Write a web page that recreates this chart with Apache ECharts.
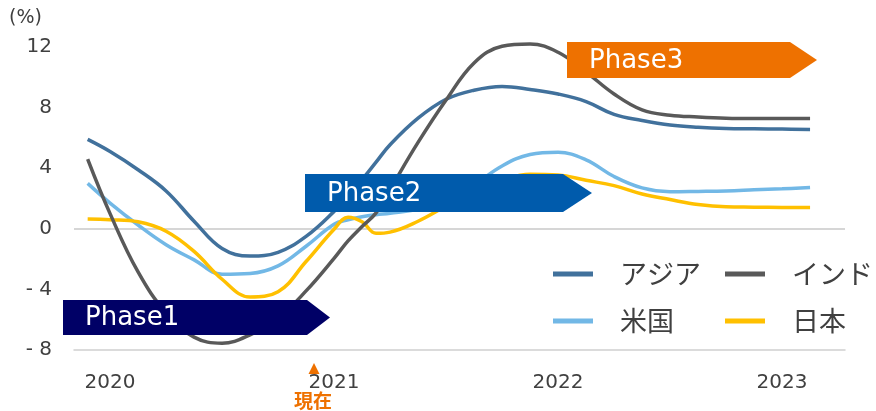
<!DOCTYPE html>
<html>
<head>
<meta charset="utf-8">
<script src="https://cdn.jsdelivr.net/npm/echarts@6/dist/echarts.min.js"></script>
<style>
html,body{margin:0;padding:0;background:#fff;}
#chart{width:876px;height:411px;}
</style>
</head>
<body>
<div id="chart"></div>
<script>
// ---- data ----
var xs = [2019.9, 2020, 2020.125, 2020.25, 2020.375, 2020.5, 2020.625, 2020.75, 2020.875, 2021, 2021.0625, 2021.125, 2021.1875, 2021.25, 2021.375, 2021.5, 2021.625, 2021.75, 2021.875, 2022, 2022.125, 2022.25, 2022.375, 2022.5, 2022.625, 2022.75, 2022.875, 2023, 2023.125];
var asia  = [5.9, 5.1, 3.9, 2.5, 0.5, -1.3, -1.8, -1.55, -0.5, 1.15, 2.2, 3.25, 4.4, 5.55, 7.3, 8.55, 9.15, 9.4, 9.2, 8.9, 8.4, 7.55, 7.15, 6.85, 6.7, 6.62, 6.6, 6.58, 6.56];
var india = [4.6, 1.0, -2.85, -5.55, -7.15, -7.55, -7.0, -5.9, -4.1, -1.95, -0.8, 0.15, 1.05, 2.6, 5.7, 8.5, 10.95, 12.05, 12.2, 11.65, 10.35, 8.9, 7.85, 7.5, 7.38, 7.3, 7.28, 7.28, 7.28];
var usa   = [3.0, 1.7, 0.25, -1.05, -2.05, -3.0, -2.95, -2.45, -1.15, 0.3, 0.6, 0.8, 0.93, 1.02, 1.3, 1.9, 2.9, 4.15, 4.9, 5.05, 4.55, 3.45, 2.7, 2.45, 2.47, 2.5, 2.57, 2.64, 2.72];
var japan = [0.64, 0.6, 0.46, -0.16, -1.49, -3.33, -4.5, -4.15, -2.16, -0.03, 0.76, 0.46, -0.3, -0.22, 0.5, 1.5, 2.5, 3.2, 3.6, 3.55, 3.2, 2.85, 2.3, 1.93, 1.6, 1.45, 1.43, 1.41, 1.4];
var seriesNames = ['アジア', 'インド', '米国', '日本'];
var xTickLabels = [2020, 2021, 2022, 2023];
var yTicks = {min: -8, max: 12, interval: 4};
var phaseLabels = ['Phase1', 'Phase2', 'Phase3'];
var nowLabel = '現在';
var unitLabel = '(%)';

function pairs(arr) { return arr.map(function (v, i) { return [xs[i], v]; }); }

var colors = {'アジア': '#41719C', 'インド': '#595959', '米国': '#72B8E6', '日本': '#FFC000'};
var valuesByName = {'アジア': asia, 'インド': india, '米国': usa, '日本': japan};
var txt = '#404040';
var font = 'DejaVu Sans';
var cjk = '"Noto Sans CJK JP", "Noto Sans", sans-serif';

var series = ['アジア', '米国', '日本', 'インド'].map(function (name) {
  var s = {
    name: name,
    type: 'line',
    data: pairs(valuesByName[name]),
    smooth: 0.4,
    symbol: 'none',
    clip: false,
    color: colors[name],
    lineStyle: {width: 3.5, color: colors[name]},
    z: 3
  };
  if (name === 'アジア') {
    s.markLine = {
      silent: true,
      symbol: ['none', 'none'],
      label: {show: false},
      lineStyle: {color: '#C8C8C8', width: 1.5, type: 'solid'},
      data: [{yAxis: 0}],
      z: 1
    };
  }
  return s;
});

function legendCfg(names, left) {
  return {
    data: names,
    orient: 'vertical',
    left: left,
    top: 253,
    itemWidth: 40,
    itemHeight: 5,
    icon: 'rect',
    itemGap: 15,
    selectedMode: false,
    textStyle: {fontSize: 27, lineHeight: 32, color: txt, fontFamily: cjk, padding: [0, 0, 0, 22]}
  };
}

function arrow(x0, x1, tip, y0, y1, color, label) {
  var ym = (y0 + y1) / 2;
  return [
    {type: 'polygon', z: 100, shape: {points: [[x0, y0], [x1, y0], [tip, ym], [x1, y1], [x0, y1]]}, style: {fill: color}},
    {type: 'text', z: 101, x: x0 + 22, y: ym + 1, style: {text: label, fill: '#fff', font: '26px "DejaVu Sans"', verticalAlign: 'middle', align: 'left'}}
  ];
}

var graphics = [].concat(
  arrow(63, 307, 330, 300, 335, '#000066', phaseLabels[0]),
  arrow(305, 563, 592, 174, 212, '#005BAC', phaseLabels[1]),
  arrow(567, 790, 817, 42, 78, '#EE7100', phaseLabels[2]),
  [
    {type: 'polygon', z: 100, shape: {points: [[314, 363], [319.5, 374], [308.5, 374]]}, style: {fill: '#EE7100'}},
    {type: 'text', z: 100, x: 313, y: 401, style: {text: nowLabel, fill: '#EE7100', font: 'bold 19px "Noto Sans CJK JP"', align: 'center', verticalAlign: 'middle'}},
    {type: 'text', z: 100, x: 9, y: 18, style: {text: unitLabel, fill: txt, font: '19px "DejaVu Sans"', align: 'left', verticalAlign: 'middle'}}
  ]
);

var chart = echarts.init(document.getElementById('chart'));
chart.setOption({
  backgroundColor: '#fff',
  animation: false,
  grid: {left: 74, right: 31, top: 47, bottom: 61, containLabel: false},
  xAxis: {
    type: 'value',
    min: 2019.839,
    max: 2023.281,
    axisLine: {show: true, onZero: false, lineStyle: {color: '#D0D0D0', width: 1.5}},
    axisTick: {show: false},
    splitLine: {show: false},
    axisLabel: {
      customValues: xTickLabels,
      margin: 23,
      color: txt,
      fontSize: 20,
      fontFamily: font,
      formatter: function (v) { return String(Math.round(v)); }
    }
  },
  yAxis: {
    type: 'value',
    min: yTicks.min,
    max: yTicks.max,
    interval: yTicks.interval,
    axisLine: {show: false},
    axisTick: {show: false},
    splitLine: {show: false},
    axisLabel: {
      margin: 22,
      color: txt,
      fontSize: 20,
      fontFamily: font,
      formatter: function (v) { return v < 0 ? '- ' + Math.abs(v) : String(v); }
    }
  },
  legend: [legendCfg(['アジア', '米国'], 548), legendCfg(['インド', '日本'], 720)],
  series: series,
  graphic: graphics
});
</script>
</body>
</html>
